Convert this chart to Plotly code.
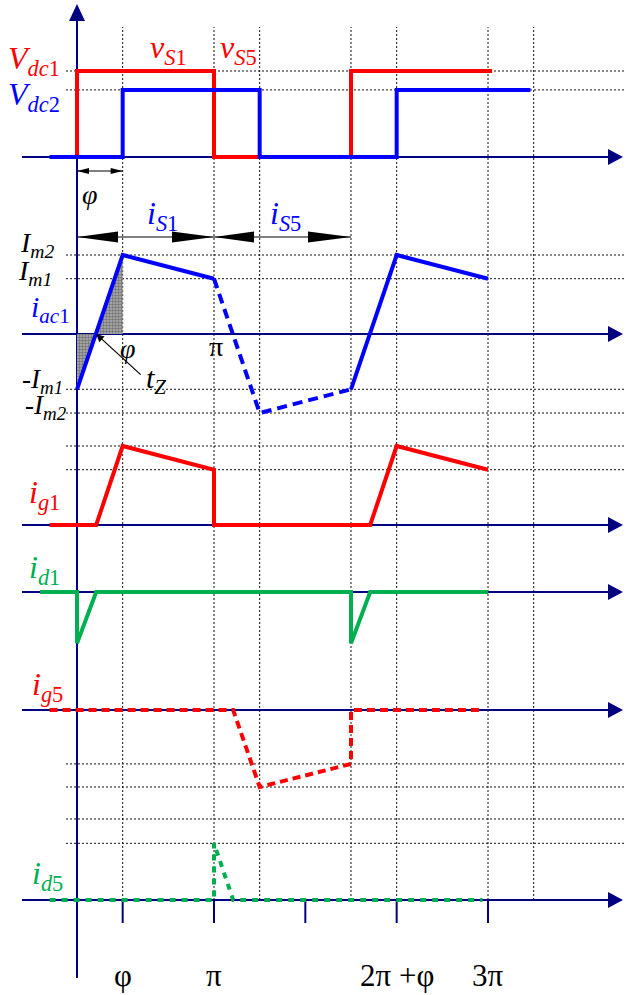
import plotly.graph_objects as go

W, H = 638, 995
X0_PX, PX_PER_PI = 77, 137          # origin column and horizontal scale (pixels per pi)

# ---- time axis, in units of pi ----
PHI = 1 / 3                          # phase shift between the two bridges
TZ = 0.14                            # zero crossing of i_ac1
GRID_T = [PHI, 1, 1 + PHI, 2, 2 + PHI, 3, 3 + PHI]
TICK_T = [PHI, 1, 5 / 3, 2 + PHI, 3]
TICK_TEXT = ["φ", "π", "", "2π +φ", "3π"]

# ---- levels ----
VDC1, VDC2 = 1.0, 0.78
IM2, IM1 = 1.0, 0.70
ID_PEAK = 0.65

# ---- switch voltages ----
vs1_t = [0, 0, 1, 1, 2, 2, 3.03]
vs1_v = [0, VDC1, VDC1, 0, 0, VDC1, VDC1]
vs5_t = [-0.2, PHI, PHI, 1 + PHI, 1 + PHI, 2 + PHI, 2 + PHI, 3.31]
vs5_v = [0, 0, VDC2, VDC2, 0, 0, VDC2, VDC2]

# ---- ac current i_ac1 ----
iac_a_t = [0, PHI, 1]
iac_a_v = [-IM1, IM2, IM1]
iac_b_t = [1, 1 + PHI, 2]
iac_b_v = [IM1, -IM2, -IM1]
iac_c_t = [2, 2 + PHI, 3]
iac_c_v = [-IM1, IM2, IM1]

# ---- device currents ----
ig1_t = [-0.2, TZ, PHI, 1, 1, 2 + TZ, 2 + PHI, 3]
ig1_v = [0, 0, IM2, IM1, 0, 0, IM2, IM1]
id1_t = [-0.27, 0, 0, TZ, 2, 2, 2 + TZ, 3]
id1_v = [0, 0, -ID_PEAK, 0, 0, -ID_PEAK, 0, 0]
ig5_t = [-0.2, 1 + TZ, 1 + PHI, 2, 2, 2.96]
ig5_v = [0, 0, -IM2, -IM1, 0, 0]
id5_t = [-0.2, 1, 1, 1 + TZ, 2.96]
id5_v = [0, 0, IM1, 0, 0]

RED, BLUE, GREEN, NAVY = "#ff0000", "#0000ff", "#00b050", "#000080"
SERIF = "Times New Roman, Liberation Serif, serif"

# panels: axis id, pixel row of the zero line, pixels per unit
PANELS = [("y", 157, 86), ("y2", 334, 79), ("y3", 525, 79),
          ("y4", 592, 79), ("y5", 710, 77), ("y6", 900, 81)]


def xd(px):
    """horizontal pixel column -> time value"""
    return (px - X0_PX) / PX_PER_PI


def yp(py):
    """pixel row -> paper fraction"""
    return 1 - py / H


fig = go.Figure()


def line(t, v, yref, color, dash="solid", width=4):
    fig.add_trace(go.Scatter(x=t, y=v, yaxis=yref, mode="lines",
                             line=dict(color=color, width=width, dash=dash),
                             hoverinfo="skip", showlegend=False))


shapes = []


def head(x, y, xref, yref, direction, length, half, color="black", dy=0):
    """filled arrowhead, tip at (x, y), sized in pixels"""
    if direction == "right":
        path = f"M0,{dy} L{-length},{dy + half} L{-length},{dy - half} Z"
    elif direction == "left":
        path = f"M0,{dy} L{length},{dy + half} L{length},{dy - half} Z"
    else:  # up
        path = f"M0,0 L{-half},{-length} L{half},{-length} Z"
    shapes.append(dict(type="path", path=path, xref=xref, yref=yref,
                       xsizemode="pixel", ysizemode="pixel",
                       xanchor=x, yanchor=y, fillcolor=color,
                       line=dict(width=0), layer="above"))


DOT = dict(color="#111", width=1, dash="2px,2px")

# vertical dotted guides
for t in GRID_T:
    shapes.append(dict(type="line", xref="x", yref="paper", x0=t, x1=t,
                       y0=yp(900), y1=yp(27), line=DOT, layer="below"))

# horizontal dotted level lines
LEVELS = [("y", VDC1), ("y", VDC2),
          ("y2", IM2), ("y2", IM1), ("y2", -IM1), ("y2", -IM2),
          ("y3", IM2), ("y3", IM1),
          ("y5", -IM1), ("y5", -IM2),
          ("y6", IM1), ("y6", IM2)]
for yref, lv in LEVELS:
    shapes.append(dict(type="line", xref="x", yref=yref, x0=xd(66), x1=xd(625),
                       y0=lv, y1=lv, line=DOT, layer="below"))

# time axes with arrowheads
for yref, _, _ in PANELS:
    shapes.append(dict(type="line", xref="x", yref=yref, x0=xd(22), x1=xd(610),
                       y0=0, y1=0, line=dict(color=NAVY, width=2), layer="below"))
    head(xd(623), 0, "x", yref, "right", 15, 8, NAVY)

# vertical axis
shapes.append(dict(type="line", xref="x", yref="paper", x0=0, x1=0,
                   y0=yp(978), y1=yp(18), line=dict(color=NAVY, width=2), layer="below"))
head(0, yp(4), "x", "paper", "up", 17, 8, NAVY)

# ticks under the last time axis
for t in TICK_T:
    shapes.append(dict(type="line", xref="x", yref="y6", ysizemode="pixel", yanchor=0,
                       x0=t, x1=t, y0=0, y1=-23, line=dict(color=NAVY, width=2),
                       layer="below"))

# phase-shift dimension arrow
shapes.append(dict(type="line", xref="x", yref="y", ysizemode="pixel", yanchor=0,
                   x0=0, x1=PHI, y0=-14, y1=-14, line=dict(color="black", width=1)))
head(0, 0, "x", "y", "left", 12, 3, dy=-14)
head(PHI, 0, "x", "y", "right", 12, 3, dy=-14)

# conduction intervals of S1 and S5
shapes.append(dict(type="line", xref="x", yref="y2", ysizemode="pixel", yanchor=0,
                   x0=0, x1=2, y0=97, y1=97, line=dict(color="black", width=1)))
head(0, 0, "x", "y2", "left", 41, 5.5, dy=97)
head(1, 0, "x", "y2", "right", 42, 5.5, dy=97)
head(1, 0, "x", "y2", "left", 40, 5.5, dy=97)
head(2, 0, "x", "y2", "right", 43, 5.5, dy=97)

# shaded charge areas around the zero crossing
SHADE = dict(shape=".", fgcolor="#333333", bgcolor="#b0b0b0", size=3, solidity=0.5)
fig.add_trace(go.Scatter(x=[0, 0, TZ, 0], y=[0, -IM1, 0, 0], yaxis="y2", mode="lines",
                         fill="toself", fillcolor="#888", fillpattern=SHADE,
                         line=dict(width=0), hoverinfo="skip", showlegend=False))
fig.add_trace(go.Scatter(x=[TZ, PHI, PHI, TZ], y=[0, IM2, 0, 0], yaxis="y2", mode="lines",
                         fill="toself", fillcolor="#888", fillpattern=SHADE,
                         line=dict(width=0), hoverinfo="skip", showlegend=False))

# waveforms
line(vs1_t, vs1_v, "y", RED)
line(vs5_t, vs5_v, "y", BLUE)
line(iac_a_t, iac_a_v, "y2", BLUE)
line(iac_b_t, iac_b_v, "y2", BLUE, dash="10px,6px")
line(iac_c_t, iac_c_v, "y2", BLUE)
line(ig1_t, ig1_v, "y3", RED)
line(id1_t, id1_v, "y4", GREEN)
line(ig5_t, ig5_v, "y5", RED, dash="8px,5px")
line(id5_t, id5_v, "y6", GREEN, dash="6px,6px")

annotations = []


def label(text, x, y, color="black", size=32, xanchor="center"):
    annotations.append(dict(text=text, x=x / W, y=yp(y), xref="paper", yref="paper",
                            xanchor=xanchor, yanchor="middle", showarrow=False,
                            borderpad=0,
                            font=dict(family=SERIF, size=size, color=color)))


label("<i>V</i><sub><i>dc</i>1</sub>", 34, 60, RED)
label("<i>V</i><sub><i>dc</i>2</sub>", 34, 96, BLUE)
label("<i>v</i><sub><i>S</i>1</sub>", 168, 50, RED)
label("<i>v</i><sub><i>S</i>5</sub>", 238, 50, RED)
label("<i>φ</i>", 90, 194, size=28)
label("<i>i</i><sub><i>S</i>1</sub>", 162, 216, BLUE)
label("<i>i</i><sub><i>S</i>5</sub>", 285, 216, BLUE)
label("<i>I</i><sub><i>m2</i></sub>", 37, 244, size=28)
label("<i>I</i><sub><i>m1</i></sub>", 35, 272, size=28)
label("<i>i</i><sub><i>ac</i>1</sub>", 50, 309, BLUE, size=30)
label("<i>φ</i>", 128, 349, size=28)
label("π", 216, 346, size=28)
label("<i>t</i><sub><i>Z</i></sub>", 156, 380, size=30)
label("-<i>I</i><sub><i>m1</i></sub>", 42, 381, size=27)
label("-<i>I</i><sub><i>m2</i></sub>", 46, 407, size=27)
label("<i>i</i><sub><i>g</i>1</sub>", 44, 494, RED)
label("<i>i</i><sub><i>d</i>1</sub>", 44, 569, GREEN)
label("<i>i</i><sub><i>g</i>5</sub>", 47, 686, RED)
label("<i>i</i><sub><i>d</i>5</sub>", 47, 875, GREEN)
for t, txt in zip(TICK_T, TICK_TEXT):
    if txt:
        annotations.append(dict(text=txt, x=t, y=yp(975), xref="x", yref="paper",
                                xanchor="center", yanchor="middle", showarrow=False,
                                font=dict(family=SERIF, size=31, color="black")))

# pointer to the zero-crossing instant
annotations.append(dict(text="", x=TZ, y=0, xref="x", yref="y2", showarrow=True,
                        ax=46, ay=42, arrowhead=2, arrowsize=1.3, arrowwidth=1.2,
                        arrowcolor="black", standoff=0))

layout = dict(
    width=W, height=H, autosize=False,
    margin=dict(l=0, r=0, t=0, b=0, pad=0),
    paper_bgcolor="white", plot_bgcolor="white",
    xaxis=dict(range=[xd(0), xd(W)], domain=[0, 1], visible=False, fixedrange=True),
    shapes=shapes, annotations=annotations, showlegend=False,
)
for i, (yref, zero, scale) in enumerate(PANELS):
    key = "yaxis" if yref == "y" else "yaxis" + yref[1:]
    ax = dict(range=[(zero - H) / scale, zero / scale], domain=[0, 1],
              visible=False, fixedrange=True)
    if i:
        ax["overlaying"] = "y"
    layout[key] = ax

fig.update_layout(**layout)
fig.write_html("out.html")
